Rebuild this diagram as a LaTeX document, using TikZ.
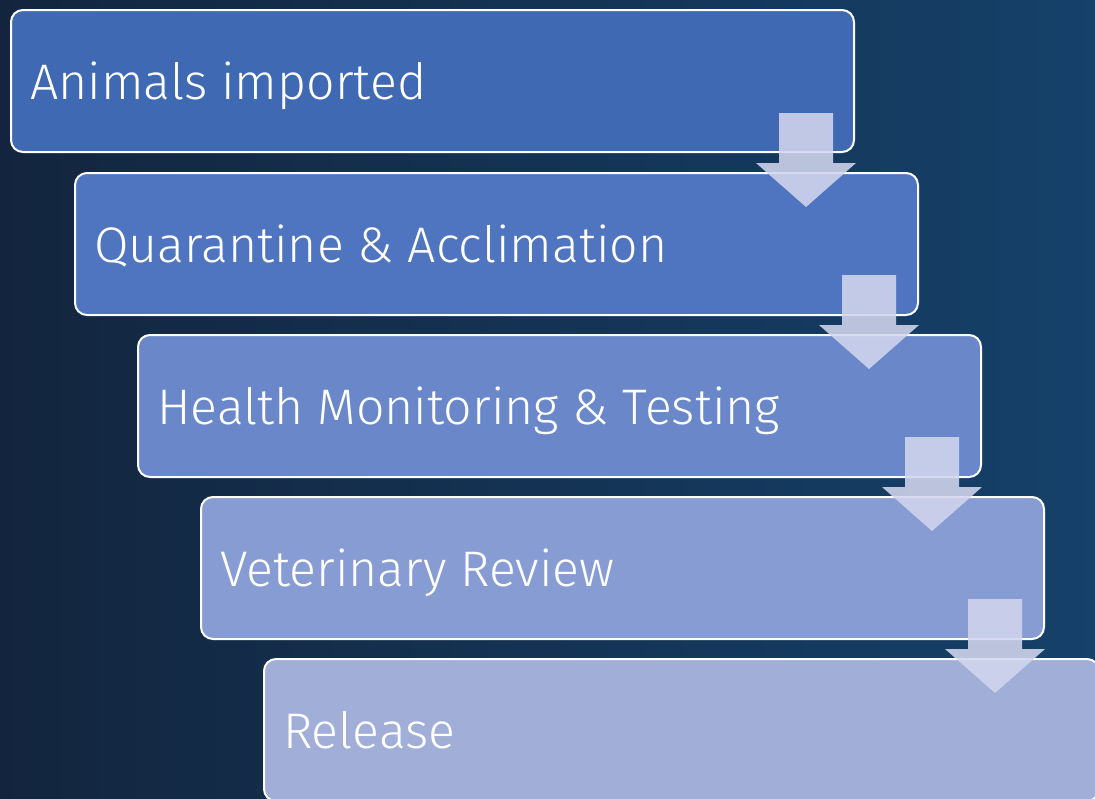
\documentclass[tikz,border=0pt]{standalone}
\usepackage{fontspec}
\setmainfont{Fira Sans Light}
\begin{document}
\begin{tikzpicture}[x=1pt,y=-1pt,
  stepbox/.style={draw=white, line width=2pt, rounded corners=12pt, anchor=north west,
    minimum width=843pt, minimum height=142pt, inner sep=0pt},
  steptext/.style={text=white, font=\fontsize{50}{60}\selectfont, anchor=base west, inner sep=0pt},
  downarrow/.style={fill=arrowc, fill opacity=0.88, draw=none}]
\definecolor{bgl}{HTML}{13253E}
\definecolor{bgr}{HTML}{15416A}
\definecolor{c1}{HTML}{3F69B3}
\definecolor{c2}{HTML}{4F75C0}
\definecolor{c3}{HTML}{6A88C9}
\definecolor{c4}{HTML}{869CD3}
\definecolor{c5}{HTML}{A0AED8}
\definecolor{arrowc}{HTML}{D2D6EE}
\useasboundingbox (0,0) rectangle (1095,798);
\shade[left color=bgl, right color=bgr] (0,0) rectangle (1095,798);
\begin{scope}
\clip (0,0) rectangle (1095,798);
\node[stepbox, fill=c1] (b1) at (10,9) {};
\node[stepbox, fill=c2] (b2) at (74,172) {};
\node[stepbox, fill=c3] (b3) at (137,334) {};
\node[stepbox, fill=c4] (b4) at (200,496) {};
\node[stepbox, fill=c5, minimum width=835pt] (b5) at (263,658) {};
\end{scope}
\node[steptext] (t1) at ([xshift=20pt,yshift=-18pt]b1.west) {Animals imported};
\node[steptext] (t2) at ([xshift=20pt,yshift=-18pt]b2.west) {Quarantine \& Acclimation};
\node[steptext] (t3) at ([xshift=20pt,yshift=-18pt]b3.west) {Health Monitoring \& Testing};
\node[steptext] (t4) at ([xshift=20pt,yshift=-18pt]b4.west) {Veterinary Review};
\node[steptext] (t5) at ([xshift=20pt,yshift=-18pt]b5.west) {Release};
\foreach \i/\cx/\ty in {1/806/113, 2/869/275, 3/932/437, 4/995/599}{
  \coordinate (a\i) at (\cx,\ty);
  \fill[downarrow] ([xshift=-27pt]a\i) -- ([xshift=27pt]a\i) -- ([xshift=27pt,yshift=-50pt]a\i)
    -- ([xshift=50pt,yshift=-50pt]a\i) -- ([yshift=-94pt]a\i) -- ([xshift=-50pt,yshift=-50pt]a\i)
    -- ([xshift=-27pt,yshift=-50pt]a\i) -- cycle;
}
\end{tikzpicture}
\end{document}
